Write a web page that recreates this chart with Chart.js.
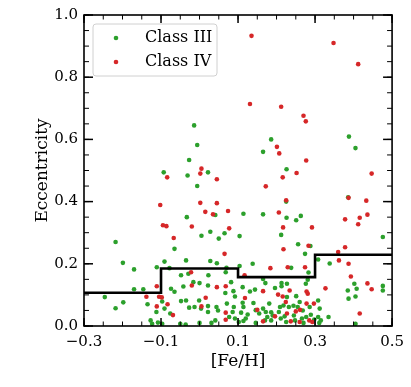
<!DOCTYPE html>
<html>
<head>
<meta charset="utf-8">
<script src="https://cdn.jsdelivr.net/npm/chart.js@4"></script>
<style>
  html, body { margin: 0; padding: 0; background: #fff; }
  canvas { display: block; }
</style>
</head>
<body>
<canvas id="chart" width="411" height="387"></canvas>
<script>
"use strict";

// ── Data ──────────────────────────────────────────────────────────────────
const class3Fe = [
  -0.014, 0.186, 0.388, -0.006, 0.405, 0.165, -0.027, -0.093, -0.031, 0.022,
  0.226, -0.006, 0.225, 0.386, 0.114, 0.165, 0.041, -0.033, 0.226, 0.251,
  0.263, 0.028, 0.005, 0.065, 0.050, 0.104, 0.212, -0.218, 0.476, -0.065,
  0.256, 0.288, 0.274, -0.199, -0.035, 0.028, 0.045, -0.091, -0.170, -0.111,
  0.138, 0.104, 0.070, 0.308, 0.338, 0.238, -0.078, -0.048, -0.029, 0.023,
  0.068, 0.165, 0.171, 0.283, 0.281, -0.170, -0.146, -0.074, -0.065, -0.042,
  -0.016, 0.000, 0.022, 0.082, 0.088, 0.092, 0.067, 0.112, 0.131, 0.144,
  0.196, 0.213, 0.213, 0.227, 0.276, 0.385, 0.402, 0.408, 0.476, 0.476,
  -0.246, -0.198, -0.218, -0.135, -0.097, -0.091, -0.112, -0.076, -0.048, -0.035,
  -0.027, -0.001, 0.004, -0.013, 0.022, 0.044, 0.048, 0.022, 0.071, 0.089,
  0.086, 0.112, 0.114, 0.108, 0.125, 0.140, 0.146, 0.165, 0.172, 0.181,
  0.186, 0.209, 0.218, 0.206, 0.227, 0.251, 0.232, 0.244, 0.255, 0.260,
  0.268, 0.286, 0.308, 0.312, 0.289, 0.387, 0.405, 0.335, 0.308, 0.315,
  -0.127, -0.123, -0.108, -0.097, -0.050, -0.036, 0.000, 0.031, 0.041, 0.077,
  0.092, 0.102, 0.114, 0.120, 0.146, 0.170, 0.176, 0.186, 0.211, 0.225,
  0.221, 0.248, 0.266, 0.270, 0.277, 0.298, 0.311, 0.405, 0.245, 0.190,
  0.155
];
const class3Ecc = [
  0.645, 0.600, 0.609, 0.582, 0.572, 0.560, 0.534, 0.494, 0.484, 0.494,
  0.504, 0.450, 0.400, 0.414, 0.361, 0.359, 0.357, 0.350, 0.348, 0.340,
  0.354, 0.303, 0.290, 0.298, 0.281, 0.289, 0.293, 0.270, 0.286, 0.248,
  0.263, 0.257, 0.232, 0.203, 0.211, 0.209, 0.202, 0.207, 0.182, 0.189,
  0.200, 0.193, 0.187, 0.214, 0.201, 0.187, 0.186, 0.163, 0.168, 0.163,
  0.173, 0.151, 0.138, 0.172, 0.149, 0.118, 0.118, 0.120, 0.110, 0.127,
  0.141, 0.138, 0.130, 0.141, 0.112, 0.095, 0.106, 0.125, 0.111, 0.117,
  0.122, 0.138, 0.128, 0.136, 0.136, 0.114, 0.136, 0.120, 0.129, 0.114,
  0.093, 0.076, 0.057, 0.070, 0.079, 0.056, 0.045, 0.040, 0.080, 0.082,
  0.059, 0.082, 0.056, 0.061, 0.064, 0.061, 0.050, 0.045, 0.072, 0.061,
  0.045, 0.075, 0.061, 0.043, 0.037, 0.074, 0.051, 0.056, 0.045, 0.072,
  0.044, 0.061, 0.066, 0.045, 0.093, 0.096, 0.061, 0.065, 0.061, 0.077,
  0.050, 0.061, 0.082, 0.056, 0.036, 0.088, 0.095, 0.029, 0.029, 0.018,
  0.018, 0.007, 0.011, 0.007, 0.007, 0.005, 0.010, 0.010, 0.018, 0.029,
  0.024, 0.013, 0.016, 0.024, 0.010, 0.018, 0.029, 0.018, 0.024, 0.013,
  0.031, 0.018, 0.024, 0.010, 0.029, 0.021, 0.010, 0.007, 0.034, 0.034,
  0.040
];

const class4Fe = [
  0.135, 0.348, 0.412, 0.131, 0.212, 0.270, 0.276, 0.201, 0.207, 0.277,
  0.005, 0.002, -0.084, 0.045, 0.216, 0.252, 0.447, 0.172, 0.387, 0.225,
  0.433, -0.102, 0.002, 0.045, 0.015, 0.035, 0.074, 0.206, 0.436, 0.378,
  0.416, 0.412, -0.095, -0.086, -0.020, 0.077, 0.217, 0.292, -0.067, 0.065,
  0.218, 0.283, 0.360, 0.362, 0.378, 0.387, 0.184, 0.229, 0.274, 0.393,
  -0.022, 0.117, -0.111, -0.020, 0.045, 0.068, 0.327, 0.436, 0.447, -0.138,
  -0.105, -0.098, -0.083, -0.111, 0.016, 0.005, 0.118, 0.150, 0.165, 0.204,
  0.216, 0.234, 0.278, 0.281, 0.278, 0.297, 0.224, 0.227, 0.250, 0.261,
  0.068, -0.069, 0.416, 0.196, 0.165, 0.260, 0.237, 0.068, 0.285, 0.293
];
const class4Ecc = [
  0.933, 0.910, 0.842, 0.714, 0.705, 0.676, 0.658, 0.576, 0.555, 0.532,
  0.506, 0.490, 0.478, 0.472, 0.478, 0.492, 0.490, 0.449, 0.412, 0.404,
  0.403, 0.389, 0.396, 0.395, 0.367, 0.359, 0.370, 0.365, 0.358, 0.343,
  0.348, 0.327, 0.324, 0.321, 0.320, 0.314, 0.317, 0.317, 0.283, 0.232,
  0.247, 0.258, 0.238, 0.211, 0.253, 0.200, 0.186, 0.189, 0.189, 0.159,
  0.173, 0.163, 0.128, 0.130, 0.125, 0.128, 0.121, 0.137, 0.118, 0.094,
  0.094, 0.092, 0.070, 0.063, 0.091, 0.063, 0.090, 0.052, 0.112, 0.101,
  0.095, 0.114, 0.111, 0.104, 0.072, 0.072, 0.077, 0.040, 0.047, 0.052,
  0.043, 0.035, 0.040, 0.031, 0.015, 0.013, 0.015, 0.020, 0.018, 0.013
];

// binned mean eccentricity (step line)
const binEdges  = [-0.3, -0.1, 0.1, 0.3, 0.5];
const binLevels = [0.107, 0.185, 0.157, 0.229, 0.229];

const xTicks = [-0.3, -0.1, 0.1, 0.3, 0.5];
const yTicks = [0.0, 0.2, 0.4, 0.6, 0.8, 1.0];

const GREEN = "#2ca02c";
const RED   = "#d62728";
const FONT  = "'DejaVu Serif', serif";

const toPoints = (xs, ys) => xs.map((x, i) => ({ x, y: ys[i] }));
const fmt = v => (Math.abs(v) < 1e-9 ? 0 : v).toFixed(1).replace("-", "\u2212");

// ── Frame, inward ticks and legend ────────────────────────────────────────
const framePlugin = {
  id: "frame",
  afterDraw(chart) {
    const { ctx, chartArea: a, scales } = chart;
    const xs = scales.x, ys = scales.y;
    ctx.save();
    ctx.strokeStyle = "#000";

    const tick = (x1, y1, x2, y2) => { ctx.beginPath(); ctx.moveTo(x1, y1); ctx.lineTo(x2, y2); ctx.stroke(); };

    // minor ticks every 0.05
    ctx.lineWidth = 1;
    for (let v = -0.3; v <= 0.5001; v += 0.05) {
      const px = xs.getPixelForValue(v);
      tick(px, a.bottom, px, a.bottom - 4.5);
      tick(px, a.top, px, a.top + 4.5);
    }
    for (let v = 0; v <= 1.0001; v += 0.05) {
      const py = ys.getPixelForValue(v);
      tick(a.left, py, a.left + 5, py);
      tick(a.right, py, a.right - 5, py);
    }
    // major ticks
    ctx.lineWidth = 1.5;
    xTicks.forEach(v => {
      const px = xs.getPixelForValue(v);
      tick(px, a.bottom, px, a.bottom - 8);
      tick(px, a.top, px, a.top + 8);
    });
    yTicks.forEach(v => {
      const py = ys.getPixelForValue(v);
      tick(a.left, py, a.left + 9, py);
      tick(a.right, py, a.right - 9, py);
    });

    ctx.lineWidth = 1.6;
    ctx.strokeRect(a.left, a.top, a.right - a.left, a.bottom - a.top);

    // legend box
    const lx = a.left + 9, ly = a.top + 9, lw = 124, lh = 52;
    ctx.beginPath();
    ctx.roundRect(lx, ly, lw, lh, 3);
    ctx.fillStyle = "rgba(255,255,255,0.8)";
    ctx.fill();
    ctx.strokeStyle = "#d0d0d0";
    ctx.lineWidth = 1;
    ctx.stroke();

    const items = [["Class III", GREEN], ["Class IV", RED]];
    ctx.font = "16px " + FONT;
    ctx.textBaseline = "middle";
    items.forEach(([label, color], i) => {
      const cy = ly + 14 + i * 24;
      ctx.beginPath();
      ctx.arc(lx + 23, cy, 2.3, 0, Math.PI * 2);
      ctx.fillStyle = color;
      ctx.fill();
      ctx.fillStyle = "#000";
      ctx.fillText(label, lx + 52, cy);
    });
    ctx.restore();
  }
};

// ── Chart ─────────────────────────────────────────────────────────────────
new Chart(document.getElementById("chart"), {
  type: "scatter",
  data: {
    datasets: [
      {
        type: "line",
        label: "mean",
        data: toPoints(binEdges, binLevels),
        borderColor: "#000",
        borderWidth: 2.6,
        stepped: true,
        pointRadius: 0,
        fill: false,
        order: 0,
      },
      {
        label: "Class III",
        data: toPoints(class3Fe, class3Ecc),
        backgroundColor: GREEN,
        borderWidth: 0,
        pointRadius: 2.3,
        order: 2,
      },
      {
        label: "Class IV",
        data: toPoints(class4Fe, class4Ecc),
        backgroundColor: RED,
        borderWidth: 0,
        pointRadius: 2.3,
        order: 1,
      },
    ],
  },
  options: {
    responsive: false,
    animation: false,
    devicePixelRatio: 1,
    layout: { padding: { left: 0, right: 14, top: 14, bottom: 0 } },
    plugins: { legend: { display: false }, tooltip: { enabled: false } },
    scales: {
      x: {
        type: "linear",
        min: -0.3,
        max: 0.5,
        afterFit: s => { s.height = 61; },
        afterBuildTicks: s => { s.ticks = xTicks.map(value => ({ value })); },
        grid: { display: false, drawTicks: false },
        border: { display: false },
        ticks: {
          color: "#000",
          padding: 7,
          font: { family: FONT, size: 15 },
          callback: v => fmt(v),
        },
        title: {
          display: true,
          text: "[Fe/H]",
          color: "#000",
          font: { family: FONT, size: 17 },
          padding: { top: 0, bottom: 15 },
        },
      },
      y: {
        type: "linear",
        min: 0,
        max: 1.0,
        afterFit: s => { s.width = 84; },
        afterBuildTicks: s => { s.ticks = yTicks.map(value => ({ value })); },
        grid: { display: false, drawTicks: false },
        border: { display: false },
        ticks: {
          color: "#000",
          padding: 6,
          font: { family: FONT, size: 15 },
          callback: v => fmt(v),
        },
        title: {
          display: true,
          text: "Eccentricity",
          color: "#000",
          font: { family: FONT, size: 17 },
          padding: { top: 32, bottom: 0 },
        },
      },
    },
  },
  plugins: [framePlugin],
});
</script>
</body>
</html>
